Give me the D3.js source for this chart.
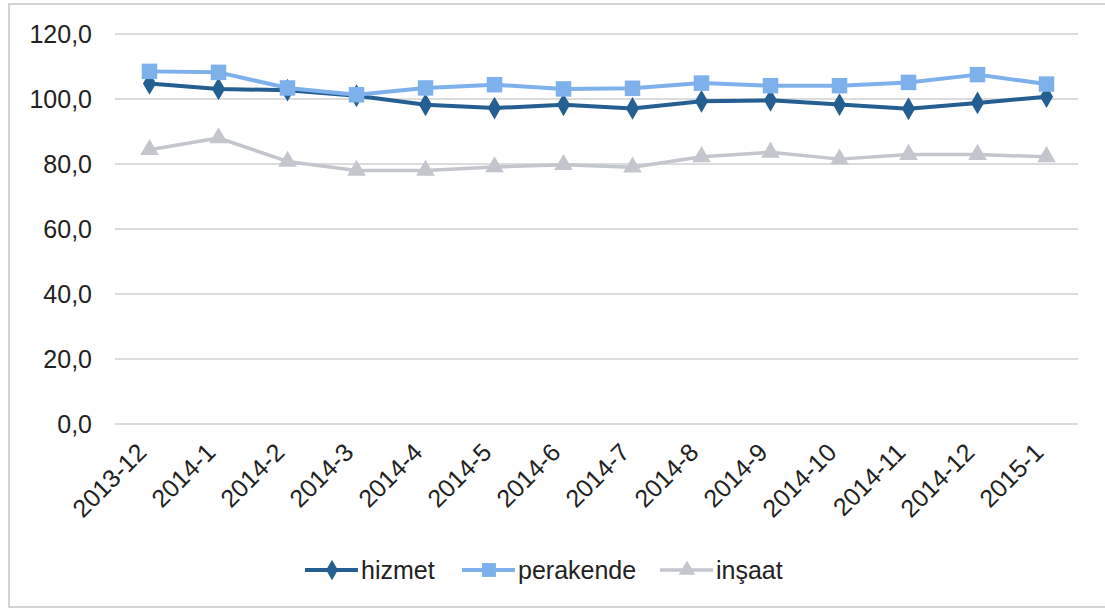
<!DOCTYPE html>
<html>
<head>
<meta charset="utf-8">
<script src="https://cdn.jsdelivr.net/npm/d3@7"></script>
<style>
  body { margin: 0; background: #fff; }
  svg { display: block; font-family: "Liberation Sans", Arial, sans-serif; }
</style>
</head>
<body>
<svg id="chart" width="1105" height="610"></svg>
<script>
const months = ['2013-12', '2014-1', '2014-2', '2014-3', '2014-4', '2014-5', '2014-6',
    '2014-7', '2014-8', '2014-9', '2014-10', '2014-11', '2014-12', '2015-1'];
const hizmet = [104.8, 103.1, 102.7, 101.0, 98.2, 97.2, 98.2, 97.1, 99.3, 99.6, 98.3, 97.0, 98.8, 100.7];
const perakende = [108.5, 108.2, 103.4, 101.3, 103.4, 104.4, 103.1, 103.3, 104.9, 104.1, 104.1, 105.1, 107.5, 104.6];
const insaat = [84.4, 88.0, 80.8, 78.0, 78.0, 79.1, 79.8, 79.0, 82.2, 83.6, 81.5, 82.9, 82.9, 82.2];
const yTicks = [0, 20, 40, 60, 80, 100, 120];

const series = [
    {name: 'hizmet', values: hizmet, color: '#255e91', width: 4, symbol: d3.symbolDiamond, size: 150},
    {name: 'perakende', values: perakende, color: '#7eb1ec', width: 4, symbol: d3.symbolSquare, size: 240},
    {name: 'inşaat', values: insaat, color: '#c3c6cc', width: 3.5, symbol: d3.symbolTriangle, size: 150}
];

const svg = d3.select('#chart');

// outer frame
svg.append('rect').attr('x', 9).attr('y', 4).attr('width', 1100).attr('height', 603)
    .attr('fill', 'none').attr('stroke', '#d4d4d4').attr('stroke-width', 2);

const x = d3.scalePoint().domain(months).range([115, 1081]).padding(0.5);
const y = d3.scaleLinear().domain([0, 120]).range([424, 34]);

const fmt = d => d3.format('.1f')(d).replace('.', ',');

// gridlines
svg.append('g').selectAll('line').data(yTicks).join('line')
    .attr('x1', 115).attr('x2', 1078)
    .attr('y1', d => y(d)).attr('y2', d => y(d))
    .attr('stroke', '#d0d0d0').attr('stroke-width', 1.5);

const yAxis = svg.append('g').attr('transform', 'translate(101,0)')
    .call(d3.axisLeft(y).tickValues(yTicks).tickFormat(fmt).tickSize(0).tickPadding(9));
yAxis.select('.domain').remove();
yAxis.selectAll('text').attr('font-size', 25).attr('fill', '#222').attr('font-family', '"Liberation Sans", Arial, sans-serif');

const xAxis = svg.append('g').attr('transform', 'translate(0,424)')
    .call(d3.axisBottom(x).tickSize(0).tickPadding(0));
xAxis.select('.domain').remove();
xAxis.selectAll('text')
    .attr('font-size', 25).attr('fill', '#222').attr('font-family', '"Liberation Sans", Arial, sans-serif')
    .attr('text-anchor', 'end')
    .attr('dy', 0)
    .attr('transform', 'translate(-2,30) rotate(-45)');

const line = d3.line().x((d, i) => x(months[i])).y(d => y(d));

for (const s of series) {
    svg.append('path').datum(s.values)
        .attr('d', line)
        .attr('fill', 'none')
        .attr('stroke', s.color)
        .attr('stroke-width', s.width)
        .attr('stroke-linejoin', 'round');
    svg.append('g').selectAll('path').data(s.values).join('path')
        .attr('transform', (d, i) => `translate(${x(months[i])},${y(d)})`)
        .attr('d', d3.symbol().type(s.symbol).size(s.size))
        .attr('fill', s.color);
}

// legend
const legendX = [305, 462, 660];
const legend = svg.append('g').attr('transform', 'translate(0,570)');
series.forEach((s, i) => {
    const g = legend.append('g').attr('transform', `translate(${legendX[i]},0)`);
    g.append('line').attr('x1', 0).attr('x2', 53).attr('y1', 0).attr('y2', 0)
        .attr('stroke', s.color).attr('stroke-width', s.width);
    g.append('path').attr('transform', 'translate(27,0)')
        .attr('d', d3.symbol().type(s.symbol).size(s.size * 0.8)).attr('fill', s.color);
    g.append('text').attr('x', 56).attr('y', 9).text(s.name)
        .attr('font-size', 25).attr('fill', '#222');
});
</script>
</body>
</html>
